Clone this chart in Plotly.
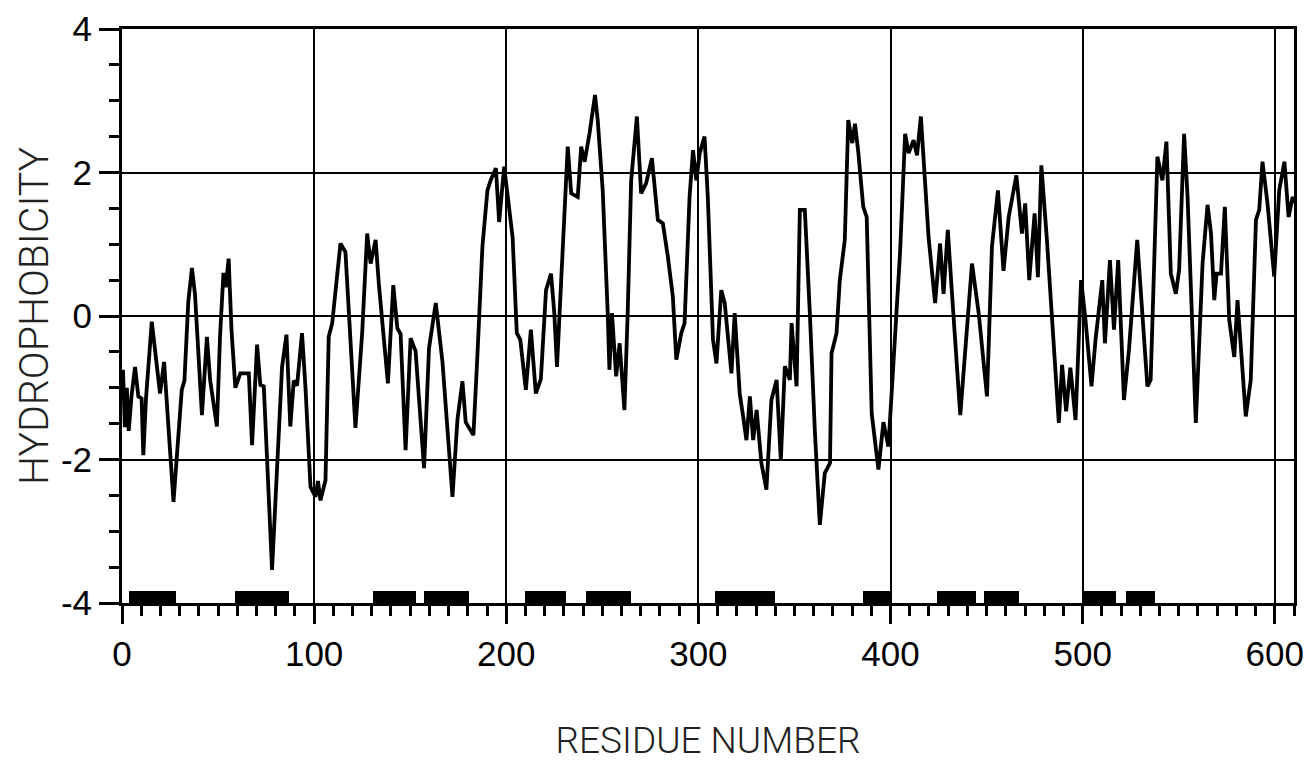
import plotly.graph_objects as go

# Hydrophobicity profile (residue number, hydrophobicity)
residue = [0.5, 1.5, 2.5, 3.5, 5, 6.8, 8.5, 10.2, 11.1, 12.5, 15.5, 17.2, 19.8, 21.9, 23, 26.8,
           31.1, 32.5, 34.5, 36.4, 38, 40.3, 41.6, 44.2, 45.9, 49.4, 51, 52.8, 54, 55.5, 57, 59,
           61.6, 66, 67.7, 70.3, 72, 73.8, 78.1, 83.3, 85.6, 87.6, 89.4, 91.1, 93.7, 95.5, 98.1,
           100.7, 102, 103.3, 105.9, 107.6, 109.4, 113.7, 116.3, 121.5, 125, 127.6, 129.4, 132,
           133.7, 138.4, 141.2, 143.3, 145, 147.6, 150.2, 152.8, 157.2, 159.8, 163.3, 166.8, 172,
           174.6, 177.2, 178.9, 182.9, 185, 187.6, 190.2, 192, 194.6, 196.3, 198.9, 201.5, 203.3,
           205.5, 207.3, 210.2, 212.8, 215.4, 218, 220.7, 223.3, 225, 226.4, 228.6, 232, 233.8,
           237.2, 239, 240.8, 243.3, 246.2, 247.6, 250.2, 252.8, 253.7, 255, 257.2, 259, 261.5,
           263.2, 265, 268, 270.2, 272.8, 275.8, 278.9, 281.5, 284.1, 286.7, 288.5, 291.1, 292.8,
           295.4, 297.2, 298.9, 300.7, 303.2, 304.9, 307.6, 309.4, 311.9, 313.7, 317.2, 318.9,
           321.5, 323.3, 325, 326.8, 328.5, 330.3, 332.8, 335.4, 338, 340.7, 342.9, 345, 347.6,
           348.5, 351.1, 352.8, 355.4, 358, 360.6, 363.2, 365.8, 368.5, 369.3, 371.9, 373.6,
           376.2, 378, 380.1, 381.5, 383.2, 385.8, 387.6, 390.2, 393.7, 396.3, 398.9, 402, 405,
           407.6, 409.4, 412, 413.8, 415.8, 418.1, 419.8, 423.2, 425.8, 427.6, 429.8, 432, 436.3,
           442.4, 445.9, 450.2, 452.8, 455.9, 458.8, 461.5, 465.5, 468.4, 470.1, 472.2, 475,
           476.7, 478.5, 481.4, 484, 487.6, 489.3, 491.4, 493.6, 496.3, 499.2, 501.5, 504.6,
           506.7, 510.2, 511.6, 514.2, 516.3, 518.5, 521.5, 524.1, 528.4, 533.7, 535.4, 538.9,
           541.5, 543.6, 545.9, 548.5, 550.2, 552.8, 554.6, 558.9, 562.4, 565, 566.8, 568.5,
           569.7, 572, 574, 576.3, 578.9, 580.6, 584.9, 587.5, 590.2, 591.9, 593.6, 596.2, 598.8,
           599.7, 602.3, 605, 607.2, 609.3, 610]
hydrophobicity = [-0.75, -1.55, -1.0, -1.6, -1.1, -0.71, -1.12, -1.15, -1.94, -1.14, -0.08, -0.47,
                  -1.08, -0.64, -1.12, -2.59, -1.03, -0.9, 0.2, 0.67, 0.3, -0.75, -1.38, -0.29,
                  -0.9, -1.54, -0.3, 0.6, 0.4, 0.8, -0.2, -1.0, -0.8, -0.8, -1.8, -0.4, -0.96,
                  -0.98, -3.54, -0.71, -0.26, -1.54, -0.9, -0.97, -0.24, -1.0, -2.38, -2.52, -2.3,
                  -2.57, -2.29, -0.29, -0.1, 1.01, 0.89, -1.56, -0.24, 1.15, 0.73, 1.06, 0.44,
                  -0.94, 0.43, -0.17, -0.25, -1.87, -0.31, -0.49, -2.12, -0.45, 0.18, -0.64,
                  -2.52, -1.44, -0.91, -1.48, -1.66, -0.54, 0.97, 1.75, 1.9, 2.06, 1.31, 2.08,
                  1.52, 1.1, -0.24, -0.33, -1.03, -0.19, -1.08, -0.88, 0.36, 0.59, 0.04, -0.71,
                  0.5, 2.36, 1.71, 1.66, 2.36, 2.15, 2.54, 3.08, 2.73, 1.75, 0.04, -0.75, 0.04,
                  -0.84, -0.38, -1.31, 0.04, 1.89, 2.78, 1.71, 1.85, 2.2, 1.34, 1.29, 0.83, 0.27,
                  -0.61, -0.24, -0.1, 1.66, 2.31, 1.89, 2.27, 2.5, 1.66, -0.33, -0.66, 0.36, 0.18,
                  -0.8, 0.04, -1.08, -1.4, -1.73, -1.12, -1.73, -1.31, -2.05, -2.42, -1.17, -0.89,
                  -2.01, -0.7, -0.89, -0.1, -0.98, 1.48, 1.48, 0.04, -1.59, -2.91, -2.19, -2.05,
                  -0.52, -0.24, 0.5, 1.06, 2.73, 2.41, 2.68, 2.29, 1.52, 1.38, -1.36, -2.14, -1.48,
                  -1.82, -0.5, 0.9, 2.54, 2.27, 2.45, 2.24, 2.78, 1.75, 1.1, 0.18, 1.01, 0.31, 1.2,
                  0.31, -1.38, 0.73, 0.04, -1.12, 0.97, 1.75, 0.63, 1.38, 1.96, 1.15, 1.57, 0.5,
                  1.43, 0.54, 2.1, 1.06, 0.04, -1.49, -0.68, -1.33, -0.72, -1.45, 0.5, -0.06, -0.98,
                  -0.33, 0.5, -0.38, 0.78, -0.19, 0.78, -1.17, -0.47, 1.06, -0.98, -0.89, 2.22,
                  1.89, 2.43, 0.59, 0.31, 0.64, 2.54, 1.66, -1.49, 0.73, 1.55, 1.15, 0.22, 0.59,
                  0.59, 1.52, -0.06, -0.57, 0.22, -1.4, -0.89, 1.34, 1.48, 2.15, 1.57, 0.69, 0.55,
                  1.75, 2.15, 1.38, 1.66, 1.57]

# Predicted segments (black bars along the bottom)
segment_start = [3.4, 59, 130.4, 157, 209.5, 241.5, 308.8, 385.5, 424.4, 448.6, 500.8, 522.8]
segment_end = [27.9, 87, 152.9, 180.5, 231.3, 265, 340, 400, 444.7, 467, 517.5, 537.4]
segment_height = 0.17

x_tickvals = [0, 100, 200, 300, 400, 500, 600]
x_ticktext = ["0", "100", "200", "300", "400", "500", "600"]
y_tickvals = [-4, -2, 0, 2, 4]
y_ticktext = ["-4", "-2", "0", "2", "4"]

fig = go.Figure()

fig.add_trace(go.Bar(
    x=[(s + e) / 2 for s, e in zip(segment_start, segment_end)],
    y=[segment_height] * len(segment_start),
    base=-4,
    width=[e - s for s, e in zip(segment_start, segment_end)],
    marker=dict(color="black", line=dict(width=0)),
    hoverinfo="skip",
))

fig.add_trace(go.Scatter(
    x=residue, y=hydrophobicity, mode="lines",
    line=dict(color="black", width=3.8),
))

tick_font = dict(family="Liberation Sans, Arial, sans-serif", size=35, color="black")
x_title_font = dict(family="Roboto, Liberation Sans, Arial, sans-serif", size=37,
                    color="#222", weight=300)
y_title_font = dict(family="Roboto, Liberation Sans, Arial, sans-serif", size=41,
                    color="#222", weight=300)

fig.update_layout(
    width=1311, height=778,
    margin=dict(l=122, r=17, t=29, b=175),
    paper_bgcolor="white", plot_bgcolor="white",
    showlegend=False,
    bargap=0,
    xaxis=dict(
        range=[0, 610], autorange=False,
        tickvals=x_tickvals, ticktext=x_ticktext,
        ticks="outside", ticklen=18, tickwidth=2.5, tickcolor="black",
        minor=dict(dtick=10, tick0=0, ticks="outside", ticklen=10, tickwidth=2.5,
                   tickcolor="black", showgrid=False),
        showgrid=True, gridcolor="black", gridwidth=2,
        showline=True, linecolor="black", linewidth=3, mirror=True,
        zeroline=False, tickfont=tick_font,
        title=dict(text="RESIDUE NUMBER", font=x_title_font, standoff=56),
        automargin=False,
    ),
    yaxis=dict(
        range=[-4, 4], autorange=False,
        tickvals=y_tickvals, ticktext=y_ticktext,
        ticks="outside", ticklen=20, tickwidth=2.5, tickcolor="black",
        minor=dict(dtick=0.5, tick0=0, ticks="outside", ticklen=10, tickwidth=2.5,
                   tickcolor="black", showgrid=False),
        showgrid=True, gridcolor="black", gridwidth=2,
        showline=True, linecolor="black", linewidth=3, mirror=True,
        zeroline=False, tickfont=tick_font,
        title=dict(text="HYDROPHOBICITY", font=y_title_font, standoff=0),
        automargin=False,
    ),
)

fig.write_html("out.html")
